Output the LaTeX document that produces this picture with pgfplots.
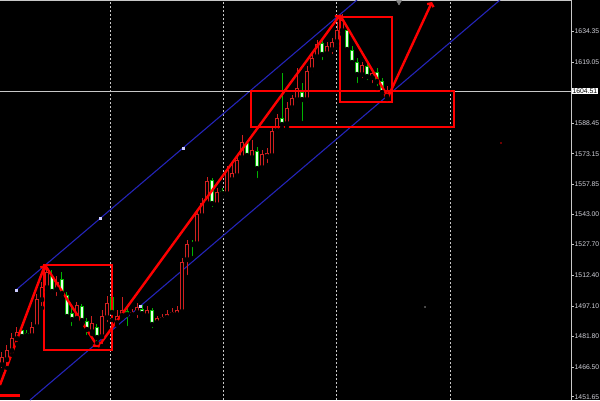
\documentclass[border=0pt]{standalone}
\usepackage{pgfplots}
\pgfplotsset{compat=1.18}
\usepackage{pgfplotstable}
\usetikzlibrary{arrows.meta}
\usepackage{fontspec}
\setmainfont{Liberation Sans}

\definecolor{candlered}{HTML}{D02020}
\definecolor{candlegreen}{HTML}{00B400}
\definecolor{candlefill}{HTML}{E8FFE8}
\definecolor{chanblue}{HTML}{2424B8}
\definecolor{gridgray}{HTML}{C8C8C8}
\definecolor{labelgray}{HTML}{D2D2DA}

% Bars: index, open, high, low, close
\pgfplotstableread{
x o h l c
0 1467.5 1474 1465 1471.5
1 1470 1477.5 1466 1475
2 1474.5 1483.5 1472.5 1481
3 1480.5 1486.5 1478 1484
4 1485 1487.5 1479.5 1481.5
5 1483.5 1485 1480 1482
6 1482 1489 1480.5 1486.5
7 1486.5 1503 1485.5 1500.5
8 1500 1509 1496 1506.5
9 1506 1517 1504 1514
10 1512 1515 1502 1504
11 1505 1512 1501 1509
12 1510.5 1514 1501 1503
13 1502.5 1504 1490 1491.5
14 1493.5 1496 1486 1490
15 1490.5 1499 1489.5 1497.5
16 1497 1498 1488 1489.5
17 1489.5 1491 1481.5 1485
18 1484 1492 1483 1488.5
19 1486.5 1488 1478.5 1481
20 1481.5 1495 1477 1492
21 1491 1502 1488 1498.5
22 1501.5 1508 1490 1493.5
23 1488.5 1495 1487.5 1492
24 1492 1501.5 1491 1495
25 1494.5 1496 1486 1492.5
26 1492.5 1495.5 1491 1494
27 1493.5 1498.5 1490 1496.5
28 1495.5 1497.5 1491 1493
29 1492 1497 1490.5 1495
30 1495 1496 1485 1487.5
31 1488.5 1492 1487 1491
32 1490 1493 1488.5 1491.5
33 1491 1495 1490 1493
34 1492.5 1496 1491 1494
35 1492.5 1497 1491 1495
36 1494 1521 1493 1519
37 1520 1530 1511.5 1528
38 1528.5 1530 1521 1527.5
39 1528 1545 1527 1543
40 1542 1551 1540 1548.5
41 1548 1561.5 1547 1559.5
42 1560 1561 1545.5 1548
43 1547.5 1556 1546 1554
44 1554.5 1556 1551.5 1553
45 1553 1567 1552 1565
46 1560 1568.5 1559 1563.5
47 1562 1572.5 1561 1570
48 1571 1582.5 1569 1579
49 1578.5 1580 1570 1572
50 1571 1580 1569 1575
51 1574.5 1576.5 1560 1565.5
52 1566 1575 1565 1573
53 1571.5 1576 1567.5 1573.5
54 1572 1586.5 1570 1584.5
55 1584.5 1593 1582.5 1591
56 1591 1613.5 1586 1587.5
57 1588 1599 1586.5 1596
58 1596 1602.5 1594 1601
59 1600 1616 1598 1606
60 1604 1608.5 1588.5 1600
61 1600 1617 1598 1614.5
62 1615 1623 1613 1621
63 1621.5 1630 1620 1628
64 1628.5 1630 1619 1622.5
65 1623 1629 1621 1627
66 1625 1631 1622 1629
67 1629 1639 1627 1635
68 1634.5 1643 1633 1640
69 1635 1636 1624 1625
70 1625 1627 1616.5 1618.5
71 1619 1621 1607.5 1612.5
72 1612.5 1619 1610 1617.5
73 1617 1618.5 1609 1611.5
74 1611 1615 1607.5 1613.5
75 1614 1616 1606 1609
76 1609.5 1611 1602 1603.5
77 1601.5 1607 1600.5 1604.5
}\ohlc

\pgfplotsset{
  bullbars/.style={only marks, mark=none,
    restrict expr to domain={\thisrow{c}-\thisrow{o}}{0:1000}},
  bearbars/.style={only marks, mark=none,
    restrict expr to domain={\thisrow{o}-\thisrow{c}}{0.001:1000}},
  stick/.style 2 args={error bars/.cd, y dir=plus, y explicit, error mark=none,
    error bar style={line width=#1, draw=#2, line cap=butt}},
}

\begin{document}
\begin{tikzpicture}
\fill[black] (0,0) rectangle (600pt,400pt);
\useasboundingbox (0,0) rectangle (600pt,400pt);
\begin{axis}[
  at={(0,0)}, anchor=south west,
  width=571pt, height=400pt, scale only axis,
  xmin=-0.4, xmax=113.8, ymin=1450, ymax=1650,
  axis x line*=top, axis y line*=right,
  axis line style={draw=gridgray, line width=0.8pt},
  xtick={21.6,44.27,66.93,89.6}, xticklabels={},
  xmajorgrids,
  grid style={gridgray, dash pattern=on 2pt off 2pt, line width=0.6pt},
  x tick style={draw=none},
  ytick={1451.65,1466.50,1481.80,1497.10,1512.40,1527.70,1543.00,1557.85,1573.15,1588.45,1619.05,1634.35},
  yticklabels={1451.65,1466.50,1481.80,1497.10,1512.40,1527.70,1543.00,1557.85,1573.15,1588.45,1619.05,1634.35},
  y tick style={draw=gridgray, line width=0.6pt},
  tick align=outside, major tick length=2.5pt,
  yticklabel style={font=\fontsize{6.8}{7}\selectfont, text=labelgray, inner sep=1pt},
  extra y ticks={1604.51}, extra y tick labels={1604.51},
  extra y tick style={major tick length=0.5pt,
    yticklabel style={fill=white, text=black, inner sep=0.8pt}},
]
% regression channel
\addplot[chanblue, line width=1.1pt] coordinates {(2.8,1505) (71,1650)};
\addplot[chanblue, line width=1.1pt] coordinates {(5.6,1450) (99.6,1650)};
\addplot[only marks, mark=square*, mark size=1.2pt, color=white!80!blue]
  coordinates {(2.8,1505) (19.6,1541) (36.2,1576) (27.6,1497)};

% bid line
\addplot[gridgray, line width=0.6pt] coordinates {(-0.4,1604.51) (113.8,1604.51)};

% wicks
\addplot[bullbars, stick={1pt}{candlered}]
  table[x=x, y=l, y error plus expr=\thisrow{h}-\thisrow{l}] {\ohlc};
\addplot[bearbars, stick={1pt}{candlegreen}]
  table[x=x, y=l, y error plus expr=\thisrow{h}-\thisrow{l}] {\ohlc};
% bull bodies: hollow red
\addplot[bullbars, stick={3.8pt}{candlered}]
  table[x=x, y=o, y error plus expr={max(\thisrow{c}-\thisrow{o},0.6)}] {\ohlc};
\addplot[bullbars, stick={1.6pt}{black}]
  table[x=x, y expr=\thisrow{o}+0.5, y error plus expr={max(\thisrow{c}-\thisrow{o}-1,0)}] {\ohlc};
% bear bodies: light fill, green edge
\addplot[bearbars, stick={3.8pt}{candlegreen}]
  table[x=x, y=c, y error plus expr=\thisrow{o}-\thisrow{c}] {\ohlc};
\addplot[bearbars, stick={2pt}{candlefill}]
  table[x=x, y expr=\thisrow{c}+0.5, y error plus expr={max(\thisrow{o}-\thisrow{c}-1,0)}] {\ohlc};

% zigzag wave legs
\pgfplotsset{leg/.style={red, line width=2.4pt, -{Straight Barb[length=2.5pt,width=7pt]}}}
\addplot[leg] coordinates {(-0.4,1457.5) (8.6,1517.5)};
\addplot[leg] coordinates {(8.6,1517.5) (19.2,1476.5)};
\addplot[leg] coordinates {(19.2,1476.5) (67.6,1642.5)};
\addplot[leg] coordinates {(67.6,1642.5) (77.2,1601.5)};
\addplot[leg] coordinates {(77.2,1601.5) (86,1649)};

% boxes
\addplot[red, line width=2.4pt] coordinates {(8.4,1517.5) (22,1517.5) (22,1475) (8.4,1475) (8.4,1517.5)} -- cycle;
\addplot[red, line width=2.4pt] coordinates {(67.6,1641.5) (78,1641.5) (78,1599) (67.6,1599) (67.6,1641.5)} -- cycle;
\addplot[red, line width=2.4pt] coordinates {(49.8,1604.6) (90.4,1604.6) (90.4,1586.5) (49.8,1586.5) (49.8,1604.6)} -- cycle;

% order level stub
\addplot[red, line width=3pt] coordinates {(-0.4,1452.5) (3.6,1452.5)};

% stray points and shift marker
\addplot[only marks, mark=*, mark size=0.6pt, color=red!70!black] coordinates {(99.8,1578.5)};
\addplot[only marks, mark=*, mark size=0.5pt, color=gray] coordinates {(84.6,1496.5)};
\addplot[only marks, mark=triangle*, mark size=3pt, color=gray,
  mark options={rotate=180}] coordinates {(79.4,1649)};
\end{axis}
\end{tikzpicture}
\end{document}
